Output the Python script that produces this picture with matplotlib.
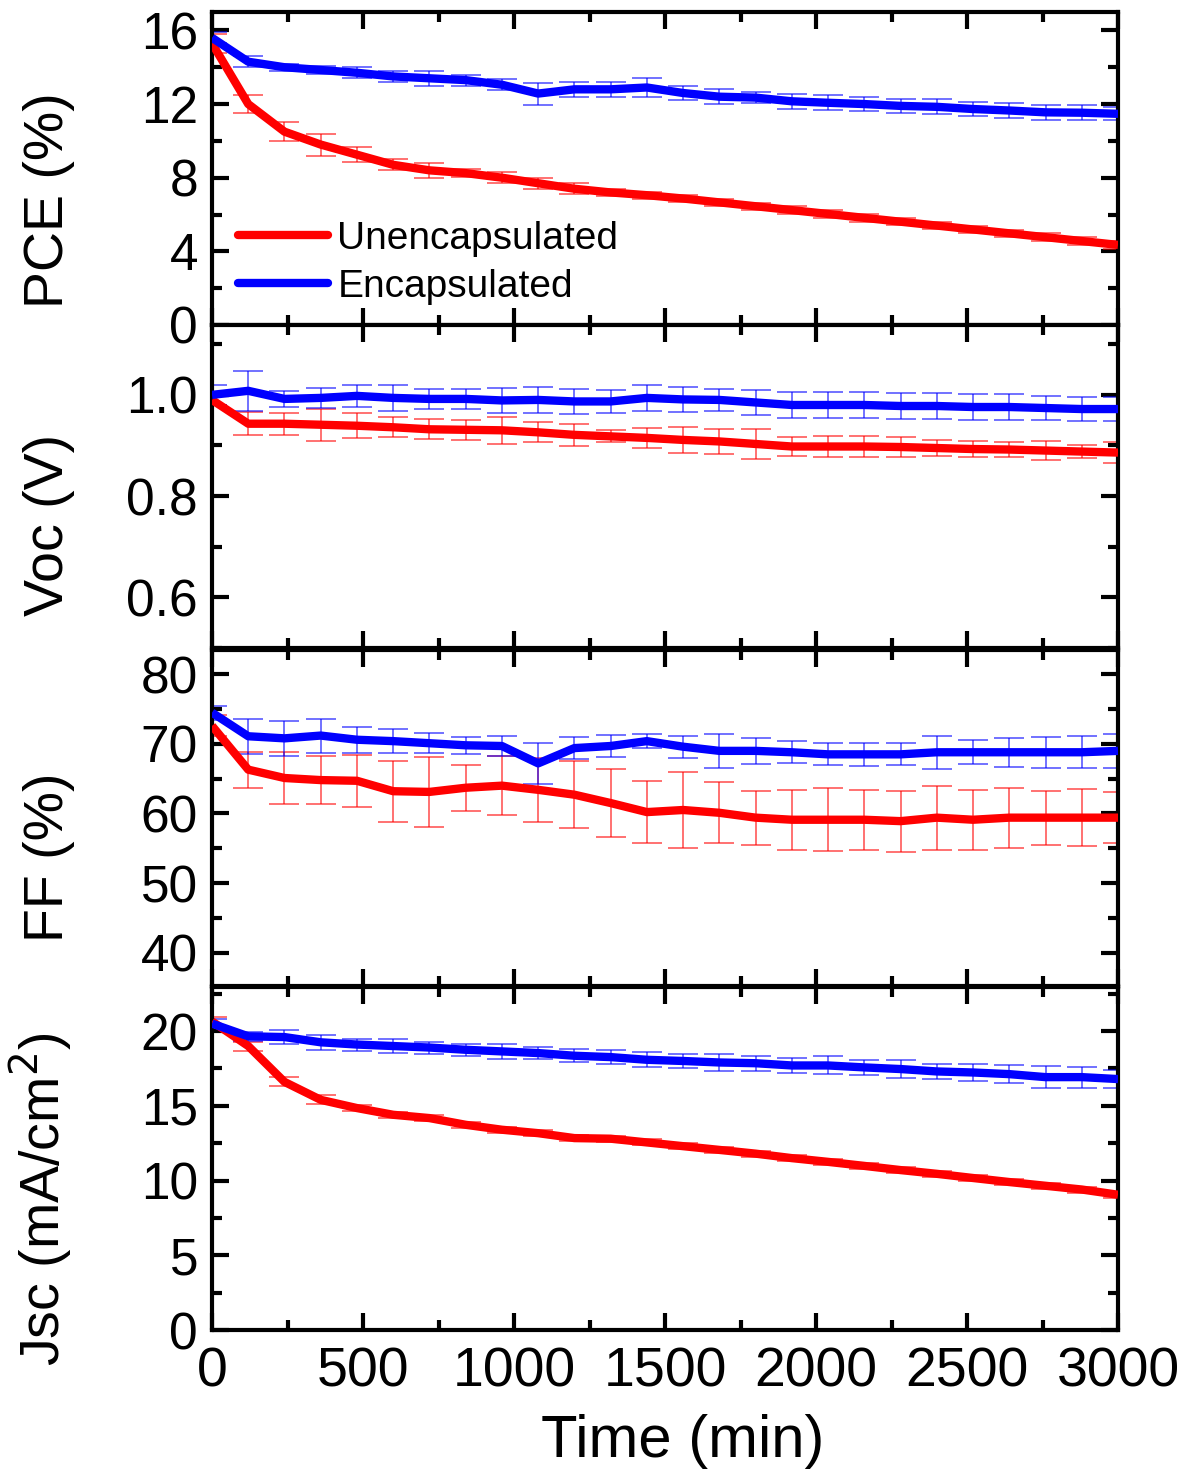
import numpy as np
import matplotlib
matplotlib.use("Agg")
import matplotlib.pyplot as plt
from matplotlib.ticker import MultipleLocator, FormatStrFormatter

plt.rcParams['font.family'] = ['Liberation Sans', 'DejaVu Sans']

time = [0, 120, 240, 360, 480, 600, 720, 840, 960, 1080, 1200, 1320, 1440,
        1560, 1680, 1800, 1920, 2040, 2160, 2280, 2400, 2520, 2640, 2760, 2880, 3000]

# PCE (%)
pce_un = [15.3, 12.0, 10.5, 9.8, 9.25, 8.7, 8.4, 8.25, 8.0, 7.7, 7.4, 7.2, 7.05,
          6.87, 6.66, 6.45, 6.24, 6.03, 5.82, 5.61, 5.40, 5.19, 4.98, 4.77, 4.56, 4.35]
pce_un_err = [0.5, 0.5, 0.5, 0.6, 0.4, 0.3, 0.4, 0.2, 0.3, 0.3, 0.3, 0.2, 0.2,
              0.2, 0.2, 0.2, 0.2, 0.2, 0.2, 0.2, 0.2, 0.2, 0.2, 0.2, 0.2, 0.2]
pce_en = [15.6, 14.3, 14.0, 13.85, 13.7, 13.5, 13.4, 13.3, 13.05, 12.57, 12.8, 12.8, 12.9,
          12.6, 12.4, 12.35, 12.15, 12.07, 12.0, 11.9, 11.85, 11.73, 11.65, 11.55, 11.53, 11.47]
pce_en_err = [0.3, 0.3, 0.2, 0.2, 0.3, 0.3, 0.4, 0.3, 0.3, 0.6, 0.4, 0.4, 0.5,
              0.4, 0.4, 0.3, 0.4, 0.4, 0.4, 0.4, 0.4, 0.4, 0.4, 0.4, 0.4, 0.35]

# Voc (V)
voc_un = [0.99, 0.943, 0.943, 0.941, 0.939, 0.936, 0.932, 0.931, 0.93, 0.926, 0.921, 0.918, 0.915,
          0.911, 0.908, 0.903, 0.898, 0.898, 0.898, 0.897, 0.895, 0.893, 0.892, 0.89, 0.888, 0.886]
voc_un_err = [0.01, 0.023, 0.022, 0.032, 0.025, 0.02, 0.02, 0.02, 0.027, 0.02, 0.022, 0.012, 0.02,
              0.025, 0.025, 0.029, 0.018, 0.02, 0.02, 0.02, 0.015, 0.015, 0.015, 0.018, 0.012, 0.02]
voc_en = [1.0, 1.008, 0.992, 0.994, 0.998, 0.994, 0.992, 0.992, 0.989, 0.99, 0.987, 0.987, 0.994,
          0.991, 0.99, 0.985, 0.98, 0.98, 0.98, 0.978, 0.978, 0.976, 0.976, 0.974, 0.972, 0.972]
voc_en_err = [0.02, 0.04, 0.015, 0.02, 0.022, 0.025, 0.02, 0.02, 0.025, 0.025, 0.025, 0.023, 0.025,
              0.025, 0.022, 0.025, 0.025, 0.025, 0.025, 0.025, 0.025, 0.025, 0.025, 0.024, 0.024, 0.024]

# FF (%)
ff_un = [72.6, 66.3, 65.1, 64.8, 64.7, 63.2, 63.1, 63.7, 64.0, 63.4, 62.7, 61.5, 60.2,
         60.5, 60.1, 59.4, 59.1, 59.1, 59.1, 58.9, 59.4, 59.1, 59.4, 59.4, 59.4, 59.4]
ff_un_err = [1.5, 2.6, 3.7, 3.5, 3.7, 4.4, 5.0, 3.3, 4.2, 4.6, 4.8, 4.9, 4.5,
             5.5, 4.4, 3.9, 4.3, 4.5, 4.3, 4.4, 4.6, 4.3, 4.3, 3.9, 4.1, 3.7]
ff_en = [74.5, 71.1, 70.8, 71.2, 70.6, 70.4, 70.1, 69.8, 69.7, 67.2, 69.4, 69.7, 70.4,
         69.6, 69.0, 69.0, 68.8, 68.5, 68.5, 68.5, 68.8, 68.8, 68.8, 68.8, 68.8, 69.0]
ff_en_err = [1.0, 2.5, 2.5, 2.45, 1.85, 1.7, 1.45, 1.25, 1.45, 3.0, 1.6, 1.55, 1.0,
             1.56, 2.4, 1.9, 1.56, 1.6, 1.7, 1.6, 2.4, 1.7, 2.1, 2.2, 2.3, 2.4]

# Jsc (mA/cm2)
jsc_un = [20.65, 19.0, 16.6, 15.4, 14.85, 14.4, 14.18, 13.73, 13.4, 13.17, 12.84, 12.8, 12.55,
          12.3, 12.05, 11.8, 11.5, 11.25, 10.98, 10.7, 10.45, 10.17, 9.9, 9.65, 9.4, 9.05]
jsc_un_err = [0.3, 0.3, 0.3, 0.3, 0.2, 0.2, 0.2, 0.2, 0.2, 0.2, 0.2, 0.2, 0.2,
              0.2, 0.2, 0.2, 0.2, 0.2, 0.2, 0.2, 0.2, 0.2, 0.2, 0.2, 0.2, 0.2]
jsc_en = [20.5, 19.65, 19.6, 19.25, 19.1, 19.0, 18.9, 18.75, 18.64, 18.53, 18.35, 18.26, 18.08,
          18.0, 17.9, 17.85, 17.7, 17.7, 17.57, 17.46, 17.3, 17.23, 17.12, 16.92, 16.92, 16.79]
jsc_en_err = [0.3, 0.3, 0.45, 0.5, 0.4, 0.45, 0.4, 0.4, 0.5, 0.4, 0.45, 0.45, 0.5,
              0.5, 0.6, 0.5, 0.5, 0.6, 0.5, 0.6, 0.5, 0.6, 0.6, 0.75, 0.7, 0.6]

red = '#ff0000'
blue = '#0000ff'

W, H = 1194, 1477
fig = plt.figure(figsize=(W / 100, H / 100), dpi=100)

def px_axes(top, bottom, left=212, right=1118):
    return fig.add_axes([left / W, 1 - bottom / H, (right - left) / W, (bottom - top) / H])

ax_pce = px_axes(12, 325)
ax_voc = px_axes(325, 648)
ax_ff = px_axes(650, 986)
ax_jsc = px_axes(987, 1330)

panels = [
    (ax_pce, pce_un, pce_un_err, pce_en, pce_en_err, (0, 17.0), 4, 2, 'PCE (%)', '%d', 0.40),
    (ax_voc, voc_un, voc_un_err, voc_en, voc_en_err, (0.5, 1.138), 0.2, 0.1, 'Voc (V)', '%.1f', 0.38),
    (ax_ff, ff_un, ff_un_err, ff_en, ff_en_err, (35.2, 83.5), 10, 5, 'FF (%)', '%d', 0.384),
    (ax_jsc, jsc_un, jsc_un_err, jsc_en, jsc_en_err, (0, 22.95), 5, 2.5,
     'Jsc (mA/cm$^2$)', '%d', 0.38),
]

for ax, yu, eu, ye, ee, ylim, major, minor, label, fmt, ly in panels:
    ax.errorbar(time, yu, yerr=eu, fmt='none', ecolor=red, elinewidth=1.2,
                capsize=11, capthick=1.2, alpha=0.65, zorder=2)
    ax.errorbar(time, ye, yerr=ee, fmt='none', ecolor=blue, elinewidth=1.2,
                capsize=11, capthick=1.2, alpha=0.65, zorder=2)
    ax.plot(time, yu, color=red, lw=6, solid_capstyle='butt', solid_joinstyle='round',
            label='Unencapsulated', zorder=3)
    ax.plot(time, ye, color=blue, lw=6, solid_capstyle='butt', solid_joinstyle='round',
            label='Encapsulated', zorder=3)
    ax.set_xlim(0, 3000)
    ax.set_ylim(*ylim)
    ax.yaxis.set_major_locator(MultipleLocator(major))
    ax.yaxis.set_minor_locator(MultipleLocator(minor))
    ax.yaxis.set_major_formatter(FormatStrFormatter(fmt))
    ax.xaxis.set_major_locator(MultipleLocator(500))
    ax.xaxis.set_minor_locator(MultipleLocator(250))
    ax.tick_params(which='both', direction='in', top=True, right=True, width=3)
    ax.tick_params(which='major', length=12)
    ax.tick_params(which='minor', length=7)
    ax.tick_params(axis='y', labelsize=37, pad=10)
    ax.tick_params(axis='x', labelsize=40, pad=12)
    for s in ax.spines.values():
        s.set_linewidth(3)
    ax.set_ylabel(label, fontsize=40)
    ax.yaxis.set_label_coords(-0.151, ly)
    if ax is not ax_jsc:
        ax.tick_params(axis='x', labelbottom=False)

ax_jsc.set_xlabel('Time (min)', fontsize=43)
ax_jsc.xaxis.set_label_coords(0.52, -0.245)

leg = ax_pce.legend(loc='upper left', bbox_to_anchor=(0.029, 0.332), frameon=False,
                    fontsize=28, handlelength=2.3, handletextpad=0.25, labelspacing=0.3,
                    borderpad=0, borderaxespad=0)
for line in leg.get_lines():
    line.set_solid_capstyle('round')

fig.savefig('out.png', dpi=100)
